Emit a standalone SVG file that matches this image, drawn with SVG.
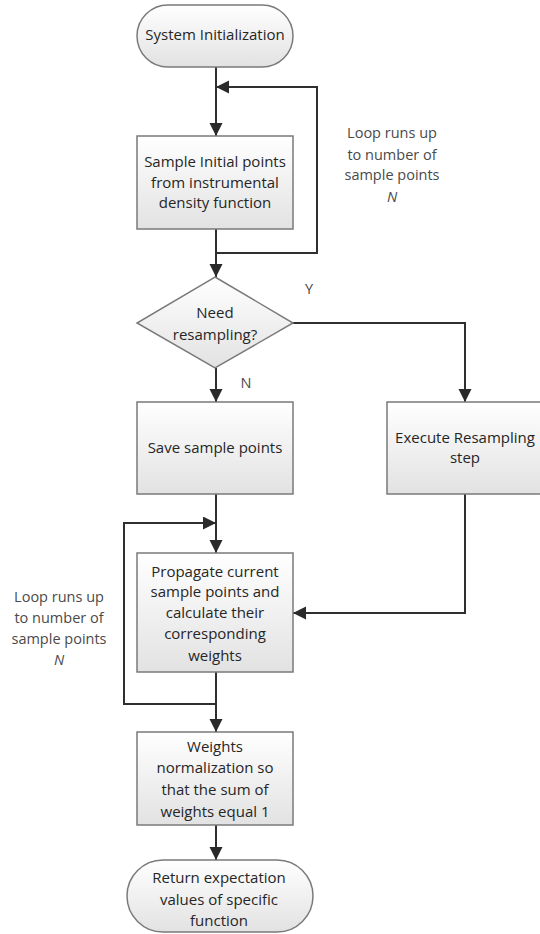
<svg xmlns="http://www.w3.org/2000/svg" width="540" height="934" viewBox="0 0 540 934">
<defs>
<linearGradient id="g" x1="0" y1="0" x2="0" y2="1">
<stop offset="0" stop-color="#ffffff"/>
<stop offset="1" stop-color="#e2e2e2"/>
</linearGradient>
<marker id="ah" markerUnits="userSpaceOnUse" markerWidth="14" markerHeight="14" refX="13" refY="6.5" orient="auto">
<path d="M0,0 L13,6.5 L0,13 z" fill="#2a2a2a"/>
</marker>
<style>
.n{fill:url(#g);stroke:#7a7a7a;stroke-width:1.5}
.t{font-family:"Open Sans","Liberation Sans",sans-serif;font-size:15px;fill:#262626;text-anchor:middle}
.l{font-family:"Open Sans","Liberation Sans",sans-serif;font-size:14.5px;fill:#4a4a4a;text-anchor:middle}
.c{fill:none;stroke:#2f2f2f;stroke-width:2}
.a{marker-end:url(#ah)}
</style>
</defs>
<rect width="540" height="934" fill="#ffffff"/>
<g id="connectors">
<path class="c a" d="M216,67 V136"/>
<path class="c a" d="M216,229 V277"/>
<path class="c a" d="M216,253 H317 V87 H216"/>
<path class="c a" d="M293,323 H465 V402"/>
<path class="c a" d="M216,368 V402"/>
<path class="c a" d="M216,494 V553"/>
<path class="c a" d="M216,704 H124 V523 H216"/>
<path class="c a" d="M465,494 V613 H293"/>
<path class="c a" d="M216,672 V732"/>
<path class="c a" d="M216,825 V860"/>
</g>
<g id="start">
<rect class="n" x="137" y="5" width="156" height="62" rx="31"/>
<text class="t" x="215" y="40">System Initialization</text>
</g>
<g id="sample">
<rect class="n" x="137" y="136" width="156" height="93"/>
<text class="t" x="215" y="167">Sample Initial points</text>
<text class="t" x="215" y="188">from instrumental</text>
<text class="t" x="215" y="208">density function</text>
</g>
<g id="decision">
<polygon class="n" points="215,277 293,323 215,368 137,323"/>
<text class="t" x="215" y="318">Need</text>
<text class="t" x="215" y="340">resampling?</text>
</g>
<g id="save">
<rect class="n" x="137" y="402" width="156" height="92"/>
<text class="t" x="215" y="453">Save sample points</text>
</g>
<g id="execute">
<rect class="n" x="387" y="402" width="156" height="92"/>
<text class="t" x="465" y="443">Execute Resampling</text>
<text class="t" x="465" y="463">step</text>
</g>
<g id="propagate">
<rect class="n" x="137" y="553" width="156" height="119"/>
<text class="t" x="215" y="577">Propagate current</text>
<text class="t" x="215" y="597">sample points and</text>
<text class="t" x="215" y="618">calculate their</text>
<text class="t" x="215" y="639">corresponding</text>
<text class="t" x="215" y="661">weights</text>
</g>
<g id="normalize">
<rect class="n" x="137" y="732" width="156" height="93"/>
<text class="t" x="215" y="752">Weights</text>
<text class="t" x="215" y="773">normalization so</text>
<text class="t" x="215" y="795">that the sum of</text>
<text class="t" x="215" y="817">weights equal 1</text>
</g>
<g id="end">
<rect class="n" x="127" y="860" width="186" height="72" rx="36"/>
<text class="t" x="219" y="883">Return expectation</text>
<text class="t" x="219" y="905">values of specific</text>
<text class="t" x="219" y="926">function</text>
</g>
<g id="labels">
<text class="l" x="309" y="294">Y</text>
<text class="l" x="246" y="388">N</text>
<text class="l" x="392" y="138">Loop runs up</text>
<text class="l" x="392" y="160">to number of</text>
<text class="l" x="392" y="180">sample points</text>
<text class="l" x="392" y="202" font-style="italic">N</text>
<text class="l" x="59" y="602">Loop runs up</text>
<text class="l" x="59" y="623">to number of</text>
<text class="l" x="59" y="644">sample points</text>
<text class="l" x="59" y="665" font-style="italic">N</text>
</g>
</svg>
